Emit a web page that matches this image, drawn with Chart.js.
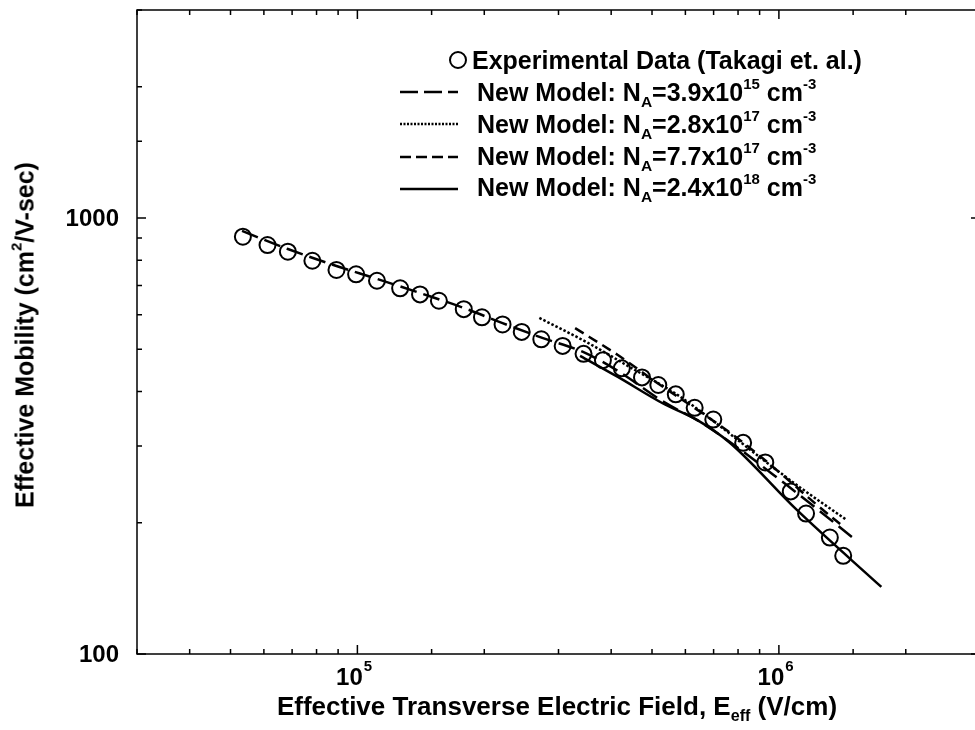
<!DOCTYPE html>
<html>
<head>
<meta charset="utf-8">
<title>Effective Mobility vs Effective Field</title>
<script src="https://cdn.jsdelivr.net/npm/chart.js@4.4.7/dist/chart.umd.min.js"></script>
<style>
  html, body { margin: 0; padding: 0; background: #fff; overflow: hidden; }
  #wrap { position: relative; width: 975px; height: 730px; overflow: hidden; }
  #wrap canvas { position: absolute; left: 0; top: 0; }
  .txt { position: absolute; font-family: "Liberation Sans", Arial, sans-serif; font-weight: bold; color: #000; white-space: nowrap; line-height: 1; }
  .txt .sup { position: relative; font-size: 0.6em; top: -0.8em; }
  .txt .sub { position: relative; font-size: 0.62em; top: 0.4em; }
  .lg-line { position: absolute; left: 400px; width: 58px; height: 6px; }
  .lg-text { font-size: 25px; }
</style>
</head>
<body>
<div id="wrap">
  <canvas id="mobility" width="990" height="730"></canvas>

  <div class="txt" style="left:557px; top:693px; font-size:26px; transform:translateX(-50%);">Effective Transverse Electric Field, E<span class="sub">eff</span> (V/cm)</div>
  <div class="txt" style="left:25px; top:335px; font-size:25px; transform:translate(-50%,-50%) rotate(-90deg);">Effective Mobility (cm<span class="sup">2</span>/V-sec)</div>

  <svg class="lg-line" style="left:448px; top:50px; width:20px; height:20px;"><circle cx="10" cy="10" r="8" fill="none" stroke="#000" stroke-width="2"/></svg>
  <div class="txt lg-text" style="left:472px; top:48px;">Experimental Data (Takagi et. al.)</div>

  <svg class="lg-line" style="top:89px;"><line x1="0" y1="3" x2="58" y2="3" stroke="#000" stroke-width="2.5" stroke-dasharray="18 6"/></svg>
  <div class="txt lg-text" style="left:477px; top:80px;">New Model: N<span class="sub">A</span>=3.9x10<span class="sup">15</span> cm<span class="sup">-3</span></div>

  <svg class="lg-line" style="top:121px;"><line x1="0" y1="3" x2="58" y2="3" stroke="#000" stroke-width="2.5" stroke-dasharray="2 1.5"/></svg>
  <div class="txt lg-text" style="left:477px; top:112px;">New Model: N<span class="sub">A</span>=2.8x10<span class="sup">17</span> cm<span class="sup">-3</span></div>

  <svg class="lg-line" style="top:154px;"><line x1="0" y1="3" x2="58" y2="3" stroke="#000" stroke-width="2.5" stroke-dasharray="11 5"/></svg>
  <div class="txt lg-text" style="left:477px; top:144px;">New Model: N<span class="sub">A</span>=7.7x10<span class="sup">17</span> cm<span class="sup">-3</span></div>

  <svg class="lg-line" style="top:186px;"><line x1="0" y1="3" x2="58" y2="3" stroke="#000" stroke-width="2.5"/></svg>
  <div class="txt lg-text" style="left:477px; top:175px;">New Model: N<span class="sub">A</span>=2.4x10<span class="sup">18</span> cm<span class="sup">-3</span></div>
</div>

<script>
// axis ranges
var xMin = 3e4, xMax = 3e6;
var yMin = 100, yMax = 3000;

// experimental data (Takagi et al.)
var expField = [53500, 61200, 68400, 78200, 89200, 99300, 111300, 126300, 140800, 156100,
                178800, 197500, 221000, 245400, 273100, 306900, 344000, 382400, 424000, 473400,
                517500, 569300, 631200, 698800, 822600, 928400, 1067000, 1160000, 1321000, 1421000];
var expMob = [906, 867, 837, 798, 760, 743, 718, 690, 668, 646,
              618, 592, 570, 548, 527, 509, 488, 472, 452, 431,
              414, 394, 367, 345, 305, 275, 236, 210, 185, 168];

// model, NA = 3.9e15
var m1Field = [53250, 68400, 89200, 111400, 140800, 178800, 221000, 274600, 343000, 414900, 529700, 669200, 1044000, 1528000];
var m1Mob = [934, 849, 776, 725, 673, 622, 574, 531, 493, 446, 380, 335, 244, 182];

// model, NA = 2.8e17
var m2Field = [270200, 352500, 438000, 574500, 714100, 887300, 1103000, 1447000];
var m2Mob = [590, 517, 458, 393, 337, 286, 244, 203];

// model, NA = 7.7e17
var m3Field = [328500, 414900, 515600, 640700, 796100, 989200, 1229000, 1431000];
var m3Mob = [559, 485, 418, 363, 313, 264, 220, 195];

// model, NA = 2.4e18
var m4Field = [337500, 414900, 529700, 640700, 762400, 1103000, 1750000];
var m4Mob = [483, 432, 376, 344, 306, 214, 142.5];

function pairs(xs, ys) {
    return xs.map(function (x, i) { return { x: x, y: ys[i] }; });
}

function isDecade(v) {
    var l = Math.log10(v);
    return Math.abs(l - Math.round(l)) < 1e-6;
}

var FONT = "'Liberation Sans', Arial, sans-serif";

// box, inward tick marks and tick labels
var axisFrame = {
    id: "axisFrame",
    afterDraw: function (chart) {
        var ctx = chart.ctx, a = chart.chartArea;
        var xs = chart.scales.x, ys = chart.scales.y;
        ctx.save();
        ctx.strokeStyle = "#000";
        ctx.lineWidth = 1.5;
        ctx.strokeRect(a.left, a.top, a.right - a.left, a.bottom - a.top);

        ctx.beginPath();
        xs.ticks.forEach(function (t) {
            var p = xs.getPixelForValue(t.value), len = isDecade(t.value) ? 9 : 5;
            ctx.moveTo(p, a.bottom); ctx.lineTo(p, a.bottom - len);
            ctx.moveTo(p, a.top); ctx.lineTo(p, a.top + len);
        });
        ys.ticks.forEach(function (t) {
            var p = ys.getPixelForValue(t.value), len = isDecade(t.value) ? 9 : 5;
            ctx.moveTo(a.left, p); ctx.lineTo(a.left + len, p);
            ctx.moveTo(a.right, p); ctx.lineTo(a.right - len, p);
        });
        ctx.stroke();

        ctx.fillStyle = "#000";
        ctx.textBaseline = "alphabetic";
        xs.ticks.forEach(function (t) {
            if (!isDecade(t.value)) return;
            var p = xs.getPixelForValue(t.value);
            var exp = String(Math.round(Math.log10(t.value)));
            ctx.font = "bold 24px " + FONT;
            ctx.textAlign = "center";
            ctx.fillText("10", p - 8, 685);
            var w = ctx.measureText("10").width;
            ctx.font = "bold 15px " + FONT;
            ctx.textAlign = "left";
            ctx.fillText(exp, p - 8 + w / 2 + 1, 671);
        });
        ctx.font = "bold 24px " + FONT;
        ctx.textAlign = "right";
        ctx.textBaseline = "middle";
        ys.ticks.forEach(function (t) {
            if (!isDecade(t.value)) return;
            ctx.fillText(String(Math.round(t.value)), a.left - 18, ys.getPixelForValue(t.value) + 1);
        });
        ctx.restore();
    }
};

var lineBase = { showLine: true, pointRadius: 0, borderColor: "#000", backgroundColor: "#000", fill: false, cubicInterpolationMode: "monotone" };

new Chart(document.getElementById("mobility"), {
    type: "scatter",
    data: {
        datasets: [
            { label: "Experimental Data (Takagi et. al.)", data: pairs(expField, expMob), showLine: false,
              pointRadius: 8, pointBorderWidth: 2, borderColor: "#000", backgroundColor: "rgba(0,0,0,0)" },
            Object.assign({ label: "NA=3.9e15", data: pairs(m1Field, m1Mob), borderWidth: 2.5, borderDash: [17, 7] }, lineBase),
            Object.assign({ label: "NA=2.8e17", data: pairs(m2Field, m2Mob), borderWidth: 2.5, borderDash: [2.5, 2] }, lineBase),
            Object.assign({ label: "NA=7.7e17", data: pairs(m3Field, m3Mob), borderWidth: 2.5, borderDash: [10, 6] }, lineBase),
            Object.assign({ label: "NA=2.4e18", data: pairs(m4Field, m4Mob), borderWidth: 2.5 }, lineBase)
        ]
    },
    options: {
        responsive: false,
        animation: false,
        layout: { padding: { left: 0, right: 6, top: 10, bottom: 0 } },
        plugins: { legend: { display: false }, tooltip: { enabled: false } },
        scales: {
            x: {
                type: "logarithmic", min: xMin, max: xMax,
                grid: { display: false }, border: { display: false },
                ticks: { display: false, autoSkip: false },
                afterFit: function (s) { s.height = 76; }
            },
            y: {
                type: "logarithmic", min: yMin, max: yMax,
                grid: { display: false }, border: { display: false },
                ticks: { display: false, autoSkip: false },
                afterFit: function (s) { s.width = 137; }
            }
        }
    },
    plugins: [axisFrame]
});
</script>
</body>
</html>
